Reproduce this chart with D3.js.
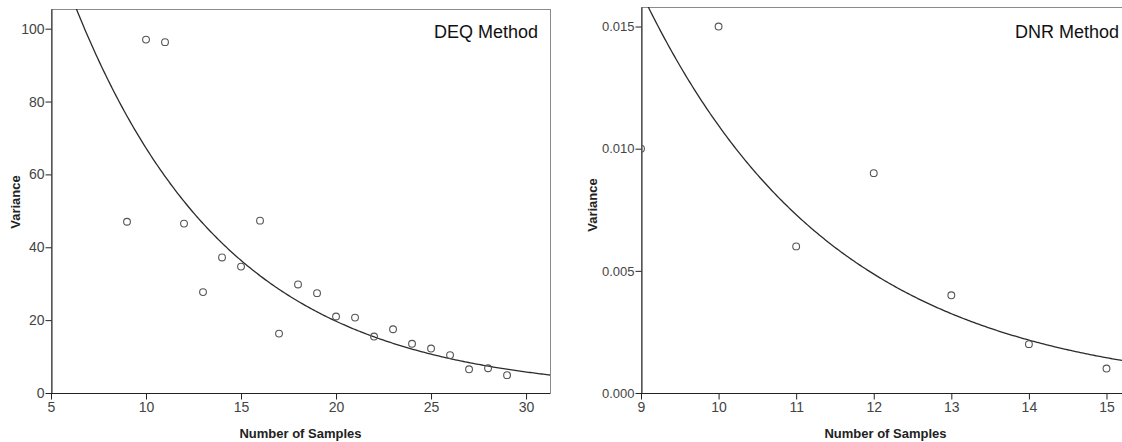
<!DOCTYPE html>
<html lang="en">
<head>
<meta charset="UTF-8">
<script src="https://d3js.org/d3.v7.min.js"></script>
<title>Variance vs Number of Samples</title>
<style>
  body { margin: 0; background: #fff; }
  svg { display: block; }
  text { font-family: "Liberation Sans", Arial, sans-serif; }
</style>
</head>
<body>
<script>
// DEQ method data
var deqSamples = [9, 10, 11, 12, 13, 14, 15, 16, 17, 18, 19, 20, 21, 22, 23, 24, 25, 26, 27, 28, 29];
var deqVariance = [47, 97, 96.3, 46.5, 27.7, 37.2, 34.7, 47.3, 16.3, 29.8, 27.4, 21, 20.7, 15.5, 17.5, 13.5, 12.2, 10.4, 6.5, 6.8, 4.9];
var deqXTicks = [5, 10, 15, 20, 25, 30];
var deqYTicks = [0, 20, 40, 60, 80, 100];

// DNR method data
var dnrSamples = [9, 10, 11, 12, 13, 14, 15];
var dnrVariance = [0.010, 0.015, 0.006, 0.009, 0.004, 0.002, 0.001];
var dnrXTicks = [9, 10, 11, 12, 13, 14, 15];
var dnrYTicks = [0, 0.005, 0.010, 0.015];

var W = 1122, H = 442;
var svg = d3.select("body").append("svg").attr("width", W).attr("height", H);

// exponential fit  y = a * exp(b x), least squares on ln(y)
function expFit(xs, ys) {
  var n = xs.length;
  var mx = d3.mean(xs);
  var ly = ys.map(function(v){ return Math.log(v); });
  var my = d3.mean(ly);
  var sxy = 0, sxx = 0;
  for (var i = 0; i < n; i++) {
    sxy += (xs[i]-mx)*(ly[i]-my);
    sxx += (xs[i]-mx)*(xs[i]-mx);
  }
  var b = sxy/sxx;
  var a = Math.exp(my - b*mx);
  return function(x){ return a*Math.exp(b*x); };
}

function panel(cfg) {
  var x = d3.scaleLinear().domain(cfg.xDomain).range([cfg.left, cfg.right]);
  var y = d3.scaleLinear().domain(cfg.yDomain).range([cfg.bottom, cfg.top]);
  var g = svg.append("g");

  g.append("clipPath").attr("id", cfg.id + "-clip")
    .append("rect")
    .attr("x", cfg.left).attr("y", cfg.top)
    .attr("width", cfg.right - cfg.left).attr("height", cfg.bottom - cfg.top);

  // frame (top / right)
  g.append("rect")
    .attr("x", cfg.left + 0.5).attr("y", cfg.top + 0.5)
    .attr("width", cfg.frameRight - cfg.left).attr("height", cfg.bottom - cfg.top)
    .attr("fill", "none").attr("stroke", "#8a8a8a").attr("stroke-width", 1);

  // axes
  var xAxis = d3.axisBottom(x).tickValues(cfg.xTicks).tickSize(6).tickSizeOuter(0)
    .tickFormat(d3.format("d"));
  var yAxis = d3.axisLeft(y).tickValues(cfg.yTicks).tickSize(6).tickSizeOuter(0)
    .tickFormat(cfg.yFormat);

  var gx = g.append("g").attr("transform", "translate(0," + (cfg.bottom + 0.5) + ")").call(xAxis);
  var gy = g.append("g").attr("transform", "translate(" + (cfg.left + 0.5) + ",0)").call(yAxis);
  [gx, gy].forEach(function(a){
    a.select(".domain").attr("stroke", "#222");
    a.selectAll(".tick line").attr("stroke", "#222");
    a.selectAll(".tick text").attr("fill", "#444").style("font-size", "14px");
  });
  gy.selectAll(".tick text").style("font-size", cfg.yFont);
  gx.select(".domain").attr("d", "M" + cfg.left + ",0H" + cfg.frameRight);
  gx.selectAll(".tick text").attr("dy", "0.72em").attr("y", 8);
  gy.selectAll(".tick text").attr("x", -7);

  // curve
  var f = expFit(cfg.xs, cfg.ys);
  var xd = x.domain();
  var pts = d3.range(0, 301).map(function(i){
    var xv = xd[0] + (xd[1]-xd[0])*i/300;
    return [xv, f(xv)];
  });
  var line = d3.line().x(function(d){ return x(d[0]); }).y(function(d){ return y(d[1]); });
  var plot = g.append("g").attr("clip-path", "url(#" + cfg.id + "-clip)");
  plot.append("path").datum(pts).attr("d", line)
    .attr("fill", "none").attr("stroke", "#2b2b2b").attr("stroke-width", 1.3);

  // points
  plot.selectAll("circle").data(cfg.xs).enter().append("circle")
    .attr("cx", function(d){ return x(d); })
    .attr("cy", function(d, i){ return y(cfg.ys[i]); })
    .attr("r", 3.4)
    .attr("fill", "none").attr("stroke", "#555").attr("stroke-width", 1.1);

  // titles
  g.append("text").text(cfg.title)
    .attr("x", cfg.titleX).attr("y", 38).attr("text-anchor", "end")
    .style("font-size", "18px").attr("fill", "#111");
  g.append("text").text("Number of Samples")
    .attr("x", (cfg.left + cfg.right)/2 + cfg.xTitleShift).attr("y", 438)
    .attr("text-anchor", "middle")
    .style("font-size", "13px").style("font-weight", "bold").attr("fill", "#222");
  g.append("text").text("Variance")
    .attr("transform", "translate(" + cfg.yTitleX + "," + cfg.yTitleY + ") rotate(-90)")
    .attr("text-anchor", "middle").attr("dy", "0.35em")
    .style("font-size", "13px").style("font-weight", "bold").attr("fill", "#222");
}

panel({
  id: "deq", xs: deqSamples, ys: deqVariance,
  xTicks: deqXTicks, yTicks: deqYTicks, yFormat: d3.format("d"), yFont: "14px",
  xDomain: [5, 31.26], yDomain: [0, 105.4],
  left: 51, right: 550, frameRight: 550, top: 9, bottom: 393,
  title: "DEQ Method", titleX: 538, xTitleShift: 0, yTitleX: 15, yTitleY: 202
});

panel({
  id: "dnr", xs: dnrSamples, ys: dnrVariance,
  xTicks: dnrXTicks, yTicks: dnrYTicks, yFormat: d3.format(".3f"), yFont: "13px",
  xDomain: [9, 15.2], yDomain: [0, 0.0158],
  left: 641, right: 1122, frameRight: 1130, top: 7, bottom: 393,
  title: "DNR Method", titleX: 1119, xTitleShift: 4, yTitleX: 592, yTitleY: 205
});
</script>
</body>
</html>
